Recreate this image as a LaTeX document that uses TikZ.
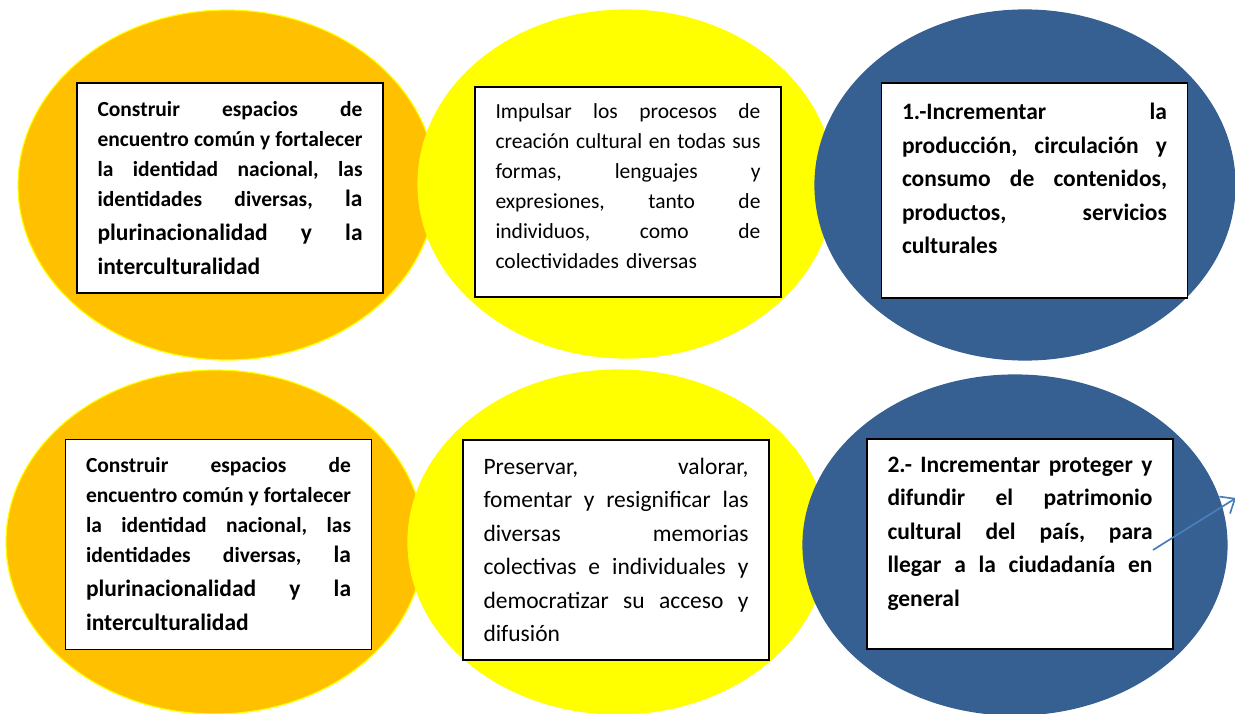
\documentclass[tikz,border=0pt]{standalone}
\usepackage{fontspec}
\setmainfont{Carlito}
\usetikzlibrary{arrows.meta, shapes.geometric}
\definecolor{ovalorange}{HTML}{FFC000}
\definecolor{ovalyellow}{HTML}{FFFF00}
\definecolor{ovalblue}{HTML}{376092}
\definecolor{arrowblue}{HTML}{4A7EBB}
\newlength{\boxtextwidth}
\setlength{\boxtextwidth}{265pt}
% one justified line: spaces share the free room
\newcommand{\jline}[1]{\makebox[\boxtextwidth][s]{\frenchspacing\spaceskip=0.226em plus 1fil\relax #1}\\}
\newcommand{\smallsize}{\fontsize{21.5}{30}\selectfont}
\newcommand{\bigsize}{\fontsize{23.5}{33.5}\selectfont}
\tikzset{
  oval/.style 2 args={ellipse,draw=#2,fill=#1,line width=1.2pt,inner sep=0pt},
  textbox/.style={rectangle,draw=black,fill=white,line width=1.6pt,text width=\boxtextwidth,
    inner xsep=20.5pt,inner ysep=0pt,minimum height=210pt,align=left},
  linkarrow/.style={-{Straight Barb[length=12pt,width=20pt]},line width=1.7pt,arrowblue},
}
\begin{document}
\begin{tikzpicture}[x=1pt,y=-1pt]
  \useasboundingbox (0,0) rectangle (1235,714);
  % ovals: orange, yellow, blue
  \foreach \name/\x/\y/\w/\h/\col/\rim in {TL/227/185/418/350/ovalorange/ovalyellow,
      BL/215/542/418/344/ovalorange/ovalyellow, TM/626/184/416/348/ovalyellow/ovalyellow,
      BM/618/542/420/344/ovalyellow/ovalyellow, TR/1025/185/420/350/ovalblue/ovalblue,
      BR/1015/545/424/340/ovalblue/ovalblue} {
    \node[oval={\col}{\rim},minimum width=\w pt,minimum height=\h pt] (oval\name) at (\x,\y) {};
  }
  % text boxes
  \node[textbox,font=\smallsize\bfseries] (boxTL) at (230,188) {%
    \jline{Construir espacios de}
    \jline{encuentro común y fortalecer}
    \jline{la identidad nacional, las}
    \jline{identidades diversas, {\bigsize la}}[4pt]
    \jline{{\bigsize plurinacionalidad y la}}[4pt]
    {\bigsize interculturalidad}};
  \node[textbox,font=\smallsize] (boxTM) at (628,192) {%
    \jline{Impulsar los procesos de}
    \jline{creación cultural en todas sus}
    \jline{formas, lenguajes y}
    \jline{expresiones, tanto de}
    \jline{individuos, como de}
    colectividades diversas\rule[-12pt]{0pt}{12pt}};
  \node[textbox,font=\bigsize\bfseries,minimum height=215pt] (boxTR) at (1034.5,190.5) {%
    \jline{1.-Incrementar la}
    \jline{producción, circulación y}
    \jline{consumo de contenidos,}
    \jline{productos, servicios}
    culturales\rule[-24pt]{0pt}{24pt}};
  \node[textbox,font=\smallsize\bfseries] (boxBL) at (218.5,544.5) {%
    \jline{Construir espacios de}
    \jline{encuentro común y fortalecer}
    \jline{la identidad nacional, las}
    \jline{identidades diversas, {\bigsize la}}[4pt]
    \jline{{\bigsize plurinacionalidad y la}}[4pt]
    {\bigsize interculturalidad}};
  \node[textbox,font=\bigsize,minimum height=220pt] (boxBM) at (616,550) {%
    \jline{Preservar, valorar,}
    \jline{fomentar y resignificar las}
    \jline{diversas memorias}
    \jline{colectivas e individuales y}
    \jline{democratizar su acceso y}
    difusión};
  \node[textbox,font=\bigsize\bfseries] (boxBR) at (1020,544) {%
    \jline{2.- Incrementar proteger y}
    \jline{difundir el patrimonio}
    \jline{cultural del país, para}
    \jline{llegar a la ciudadanía en}
    general\rule[-25pt]{0pt}{25pt}};
  \coordinate (arrowfrom) at (1153,550);
  \coordinate (arrowto) at (1236,498);
  \draw[linkarrow] (arrowfrom) -- (arrowto);
\end{tikzpicture}
\end{document}
